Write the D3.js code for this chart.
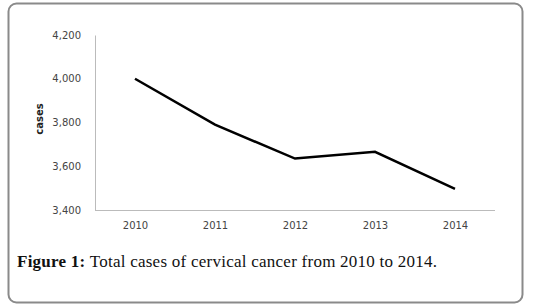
<!DOCTYPE html>
<html>
<head>
<meta charset="utf-8">
<script src="https://cdn.jsdelivr.net/npm/d3@7"></script>
<style>
  body { margin: 0; background: #fff; }
  .tick text { font-family: "DejaVu Sans", sans-serif; font-size: 10px; fill: #444; }
</style>
</head>
<body>
<div id="chart"></div>
<script>
    // chart data
    const years = ['2010', '2011', '2012', '2013', '2014'];
    const cases = [4000, 3790, 3635, 3666, 3497];
    const yTicks = [3400, 3600, 3800, 4000, 4200];

    const W = 533, H = 308;
    const svg = d3.select('#chart')
      .append('svg')
      .attr('width', W)
      .attr('height', H);

    // frame
    svg.append('rect')
      .attr('x', 8.5).attr('y', 3.5)
      .attr('width', 514).attr('height', 299)
      .attr('rx', 8)
      .attr('fill', 'none')
      .attr('stroke', '#8a8a8a')
      .attr('stroke-width', 2);

    const x = d3.scalePoint()
      .domain(years)
      .range([95, 495])
      .padding(0.5);

    const y = d3.scaleLinear()
      .domain([3400, 4200])
      .range([210, 35]);

    // y axis
    const yAxis = svg.append('g')
      .attr('transform', 'translate(95,0)')
      .call(d3.axisLeft(y).tickValues(yTicks).tickFormat(d3.format(',')).tickSize(0).tickPadding(14));
    yAxis.select('.domain').attr('stroke', '#bbb');

    // x axis
    const xAxis = svg.append('g')
      .attr('transform', 'translate(0,210)')
      .call(d3.axisBottom(x).tickSize(0).tickPadding(12));
    xAxis.select('.domain').attr('stroke', '#bbb').attr('d', 'M95,0.5H495');

    // the line
    const line = d3.line()
      .x((d, i) => x(years[i]))
      .y(d => y(d));

    svg.append('path')
      .datum(cases)
      .attr('fill', 'none')
      .attr('stroke', '#000')
      .attr('stroke-width', 2.5)
      .attr('d', line);

    // y label
    svg.append('text')
      .attr('transform', 'translate(43,119) rotate(-90)')
      .attr('text-anchor', 'middle')
      .style('font-family', '"DejaVu Sans", sans-serif')
      .style('font-size', '10px')
      .style('font-weight', 'bold')
      .attr('fill', '#222')
      .text('cases');

    // caption
    const cap = svg.append('text')
      .attr('x', 17)
      .attr('y', 267)
      .style('font-family', '"Liberation Serif", serif')
      .style('font-size', '17px')
      .style('letter-spacing', '0.25px')
      .attr('fill', '#111');
    cap.append('tspan').style('font-weight', 'bold').text('Figure 1:');
    cap.append('tspan').text(' Total cases of cervical cancer from 2010 to 2014.');
</script>
</body>
</html>
